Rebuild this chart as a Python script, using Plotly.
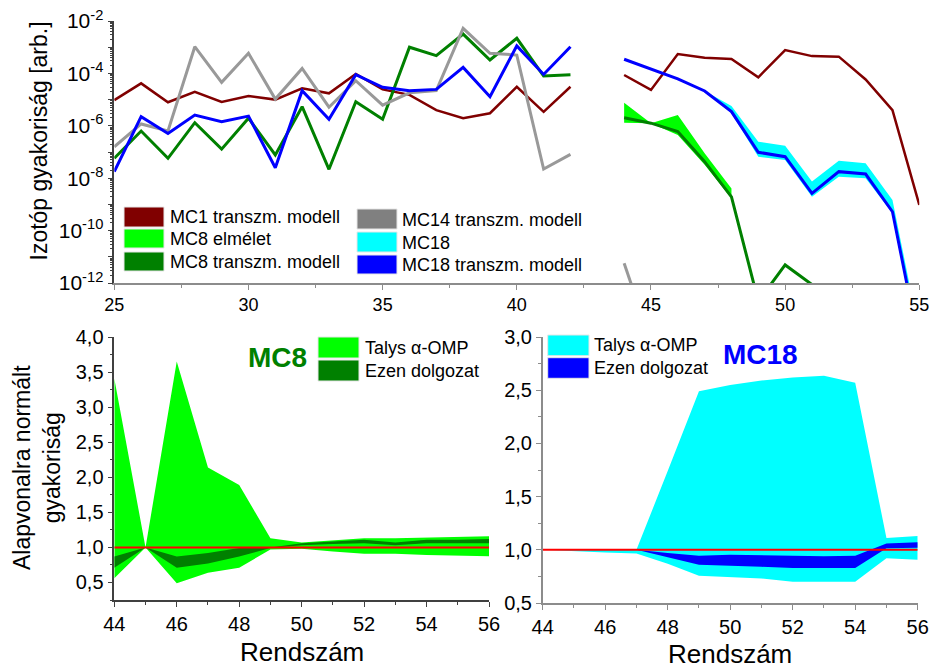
import plotly.graph_objects as go

W, H = 932, 669


def px(x):
    return x / W


def py(y):
    return 1 - y / H


# ---------------- data: top panel (log10 of isotope abundance) ----------------
z_top = list(range(25, 56))
mc1_log = [-5.02, -4.38, -5.10, -4.70, -5.09, -4.86, -5.00, -4.57, -4.76, -4.02,
           -4.61, -4.82, -5.40, -5.71, -5.52, -4.51, -5.47, -4.51, None,
           -4.06, -4.63, -3.26, -3.40, -3.45, -4.15, -3.11, -3.34, -3.36, -4.23, -5.40, -9.02]
mc8_tr_log = [-7.24, -6.20, -7.24, -5.88, -6.89, -5.71, -7.11, -5.27, -7.66, -5.08,
              -5.75, -3.00, -3.32, -2.50, -3.49, -2.66, -4.10, -4.05, None,
              -5.69, -5.90, -6.22, -7.37, -8.71, -12.7, -11.31, -12.06, None, None, None, None]
mc14_tr_log = [-6.80, -5.93, -6.20, -2.98, -4.34, -3.23, -4.98, -3.81, -5.29, -4.28,
               -5.21, -4.74, -4.66, -2.28, -3.23, -3.30, -7.65, -7.09, None,
               -11.25, -14.25, None, None, None, None, None, None, None, None, None, None]
mc18_tr_log = [-7.75, -5.65, -6.29, -5.59, -5.84, -5.63, -7.60, -4.66, -5.75, -4.05,
               -4.53, -4.66, -4.61, -3.77, -4.89, -2.95, -4.04, -2.98, None,
               -3.46, -3.83, -4.21, -4.67, -5.46, -7.01, -7.18, -8.58, -7.75, -7.84, -9.28, -14.4]

z_mc8_band = [44, 45, 46, 47, 48]
mc8_th_up_log = [-5.12, -5.90, -5.59, -7.05, -8.39]
mc8_th_lo_log = [-5.88, -5.90, -6.35, -7.49, -8.77]

z_mc18_band = [44, 45, 46, 47, 48, 49, 50, 51, 52, 53, 54, 55]
mc18_th_up_log = [-3.46, -3.83, -4.21, -4.67, -5.24, -6.61, -6.76, -8.13, -7.33, -7.43, -8.83, -13.9]
mc18_th_lo_log = [-3.46, -3.83, -4.21, -4.67, -5.52, -7.18, -7.31, -8.71, -7.94, -8.00, -9.34, -14.5]

top_tick_exp = [-12, -11, -10, -9, -8, -7, -6, -5, -4, -3, -2]

# ---------------- data: bottom panels (normalised to baseline) ----------------
z_bot = [44, 45, 46, 47, 48, 49, 50, 51, 52, 53, 54, 55, 56]
mc8_talys_up = [3.41, 1.00, 3.65, 2.14, 1.89, 1.13, 1.07, 1.10, 1.13, 1.13, 1.14, 1.15, 1.16]
mc8_talys_lo = [0.56, 1.00, 0.49, 0.64, 0.71, 0.97, 0.98, 0.94, 0.91, 0.91, 0.89, 0.88, 0.875]
mc8_own_up = [0.87, 1.00, 0.87, 0.92, 0.99, 1.00, 1.06, 1.09, 1.11, 1.07, 1.11, 1.11, 1.12]
mc8_own_lo = [0.71, 1.00, 0.71, 0.77, 0.87, 0.99, 1.03, 1.05, 1.06, 1.03, 1.06, 1.06, 1.06]

mc18_talys_up = [1.00, 1.00, 1.00, 1.00, 1.74, 2.49, 2.55, 2.59, 2.62, 2.635, 2.57, 1.11, 1.13]
mc18_talys_lo = [1.00, 0.985, 0.975, 0.965, 0.87, 0.756, 0.743, 0.73, 0.70, 0.70, 0.70, 0.92, 0.906]
mc18_own_up = [1.00, 1.00, 1.00, 1.00, 0.97, 0.944, 0.953, 0.947, 0.94, 0.94, 0.944, 1.06, 1.07]
mc18_own_lo = [1.00, 1.00, 1.00, 1.00, 0.93, 0.86, 0.85, 0.84, 0.83, 0.83, 0.83, 1.015, 1.02]

ref_x = [44, 56]
ref_y = [1.0, 1.0]

# ---------------- colours ----------------
C_MC1 = "#800000"
C_MC8TH = "#00FF00"
C_MC8TR = "#008000"
C_MC14 = "#808080"
C_MC14_LINE = "#999999"
C_MC18TH = "#00FFFF"
C_MC18TR = "#0000FF"
AX = "#8c8c8c"
AX_DARK = "#404040"
FONT = "Liberation Sans"


def pw(v):
    return [None if e is None else 10 ** e for e in v]


def band(x, up, lo):
    return list(x) + list(x)[::-1], list(up) + list(lo)[::-1]


fig = go.Figure()

# ---- top panel ----
fig.add_trace(go.Scatter(x=z_top, y=pw(mc1_log), mode="lines",
                         line=dict(color=C_MC1, width=2.5), xaxis="x", yaxis="y", showlegend=False))
bx, by = band(z_mc8_band, pw(mc8_th_up_log), pw(mc8_th_lo_log))
fig.add_trace(go.Scatter(x=bx, y=by, mode="lines", fill="toself", fillcolor=C_MC8TH,
                         line=dict(width=0, color=C_MC8TH), xaxis="x", yaxis="y", showlegend=False))
fig.add_trace(go.Scatter(x=z_top, y=pw(mc8_tr_log), mode="lines",
                         line=dict(color=C_MC8TR, width=3), xaxis="x", yaxis="y", showlegend=False))
fig.add_trace(go.Scatter(x=z_top, y=pw(mc14_tr_log), mode="lines",
                         line=dict(color=C_MC14_LINE, width=3), xaxis="x", yaxis="y", showlegend=False))
bx, by = band(z_mc18_band, pw(mc18_th_up_log), pw(mc18_th_lo_log))
fig.add_trace(go.Scatter(x=bx, y=by, mode="lines", fill="toself", fillcolor=C_MC18TH,
                         line=dict(width=0, color=C_MC18TH), xaxis="x", yaxis="y", showlegend=False))
fig.add_trace(go.Scatter(x=z_top, y=pw(mc18_tr_log), mode="lines",
                         line=dict(color=C_MC18TR, width=3), xaxis="x", yaxis="y", showlegend=False))

# ---- bottom left ----
bx, by = band(z_bot, mc8_talys_up, mc8_talys_lo)
fig.add_trace(go.Scatter(x=bx, y=by, mode="lines", fill="toself", fillcolor=C_MC8TH,
                         line=dict(width=0, color=C_MC8TH), xaxis="x2", yaxis="y2", showlegend=False))
bx, by = band(z_bot, mc8_own_up, mc8_own_lo)
fig.add_trace(go.Scatter(x=bx, y=by, mode="lines", fill="toself", fillcolor=C_MC8TR,
                         line=dict(width=0, color=C_MC8TR), xaxis="x2", yaxis="y2", showlegend=False))
fig.add_trace(go.Scatter(x=ref_x, y=ref_y, mode="lines", line=dict(color="#FF0000", width=2),
                         xaxis="x2", yaxis="y2", showlegend=False))

# ---- bottom right ----
bx, by = band(z_bot, mc18_talys_up, mc18_talys_lo)
fig.add_trace(go.Scatter(x=bx, y=by, mode="lines", fill="toself", fillcolor=C_MC18TH,
                         line=dict(width=0, color=C_MC18TH), xaxis="x3", yaxis="y3", showlegend=False))
bx, by = band(z_bot, mc18_own_up, mc18_own_lo)
fig.add_trace(go.Scatter(x=bx, y=by, mode="lines", fill="toself", fillcolor=C_MC18TR,
                         line=dict(width=0, color=C_MC18TR), xaxis="x3", yaxis="y3", showlegend=False))
fig.add_trace(go.Scatter(x=ref_x, y=ref_y, mode="lines", line=dict(color="#FF0000", width=2),
                         xaxis="x3", yaxis="y3", showlegend=False))


def ax_style(color, size=20, minor=None):
    d = dict(showgrid=False, zeroline=False, showline=True, linecolor=color, linewidth=1.5,
             ticks="outside", ticklen=5, tickcolor=color, tickwidth=1.2, automargin=False,
             tickfont=dict(family=FONT, size=size, color="#000000"))
    if minor is not None:
        d["minor"] = dict(ticks="outside", ticklen=3, tickcolor=color, **minor)
    return d


fig.update_layout(
    template="none",
    width=W, height=H,
    margin=dict(l=0, r=0, t=0, b=0, pad=0),
    paper_bgcolor="white", plot_bgcolor="white",
    separators=", ",
    font=dict(family=FONT, color="#000000"),
    showlegend=False,
    xaxis=dict(domain=[px(114.3), px(919.3)], anchor="y", range=[25, 55],
               tickvals=[25, 30, 35, 40, 45, 50, 55],
               **ax_style(AX, 18, dict(dtick=2.5, tick0=25))),
    yaxis=dict(domain=[py(283), py(21)], anchor="x", type="log", range=[-12, -2],
               tickvals=[10 ** e for e in top_tick_exp],
               ticktext=[("10<sup>%d</sup>" % e) if e % 2 == 0 else "" for e in top_tick_exp],
               **ax_style(AX_DARK, 21, dict(dtick="D1"))),
    xaxis2=dict(domain=[px(114.3), px(489)], anchor="y2", range=[44, 56], dtick=2, tick0=44,
                **ax_style(AX_DARK, 20, dict(dtick=1, tick0=44))),
    yaxis2=dict(domain=[py(600), py(337)], anchor="x2", range=[0.25, 4.0],
                tickvals=[0.5, 1.0, 1.5, 2.0, 2.5, 3.0, 3.5, 4.0], tickformat=".1f",
                **ax_style(AX_DARK, 20, dict(dtick=0.25, tick0=0.25))),
    xaxis3=dict(domain=[px(542.7), px(917.7)], anchor="y3", range=[44, 56], dtick=2, tick0=44,
                **ax_style(AX, 20, dict(dtick=1, tick0=44))),
    yaxis3=dict(domain=[py(603), py(337)], anchor="x3", range=[0.5, 3.0],
                tickvals=[0.5, 1.0, 1.5, 2.0, 2.5, 3.0], tickformat=".1f",
                **ax_style(AX, 20, dict(dtick=0.25, tick0=0.5))),
)

shapes = []
annotations = []


def legend_item(x0, x1, y0, y1, color, text, tx, ty, size=18):
    shapes.append(dict(type="rect", xref="paper", yref="paper",
                       x0=px(x0), x1=px(x1), y0=py(y1), y1=py(y0),
                       fillcolor=color, line=dict(color="#e6e6e6", width=1), layer="above"))
    annotations.append(dict(xref="paper", yref="paper", x=px(tx), y=py(ty), text=text,
                            showarrow=False, xanchor="left", yanchor="middle", borderpad=0,
                            font=dict(family=FONT, size=size, color="#000000")))


# top legend
legend_item(124, 164, 207, 227, C_MC1, "MC1 transzm. modell", 169, 217)
legend_item(124, 164, 229, 248, C_MC8TH, "MC8 elmélet", 169, 239)
legend_item(124, 164, 252, 271, C_MC8TR, "MC8 transzm. modell", 169, 261.5)
legend_item(357, 397, 209, 229, C_MC14, "MC14 transzm. modell", 401, 219.5)
legend_item(357, 397, 232, 252, C_MC18TH, "MC18", 401, 242.5)
legend_item(357, 397, 255, 274, C_MC18TR, "MC18 transzm. modell", 401, 264.5)

# bottom-left legend
legend_item(318, 359, 337, 358, C_MC8TH, "Talys α-OMP", 364, 347.5)
legend_item(318, 359, 360, 381, C_MC8TR, "Ezen dolgozat", 364, 370.5)
# bottom-right legend
legend_item(547.7, 589, 335, 355.7, C_MC18TH, "Talys α-OMP", 593, 345)
legend_item(547.7, 589, 357.7, 378.3, C_MC18TR, "Ezen dolgozat", 593, 368)

# titles
annotations += [
    dict(xref="paper", yref="paper", x=px(38), y=py(141.5), text="Izotóp gyakoriság [arb.]",
         textangle=-90, showarrow=False, xanchor="center", yanchor="middle",
         font=dict(family=FONT, size=23, color="#000000")),
    dict(xref="paper", yref="paper", x=px(37), y=py(468), text="Alapvonalra normált<br>gyakoriság",
         textangle=-90, showarrow=False, xanchor="center", yanchor="middle",
         font=dict(family=FONT, size=23, color="#000000")),
    dict(xref="paper", yref="paper", x=px(302), y=py(652), text="Rendszám",
         showarrow=False, xanchor="center", yanchor="middle",
         font=dict(family=FONT, size=26, color="#000000")),
    dict(xref="paper", yref="paper", x=px(730), y=py(654), text="Rendszám",
         showarrow=False, xanchor="center", yanchor="middle",
         font=dict(family=FONT, size=26, color="#000000")),
    dict(xref="paper", yref="paper", x=px(277), y=py(358), text="<b>MC8</b>",
         showarrow=False, xanchor="center", yanchor="middle",
         font=dict(family=FONT, size=28, color=C_MC8TR)),
    dict(xref="paper", yref="paper", x=px(760), y=py(354), text="<b>MC18</b>",
         showarrow=False, xanchor="center", yanchor="middle",
         font=dict(family=FONT, size=28, color=C_MC18TR)),
]

fig.update_layout(shapes=shapes, annotations=annotations)
fig.write_html("out.html")
